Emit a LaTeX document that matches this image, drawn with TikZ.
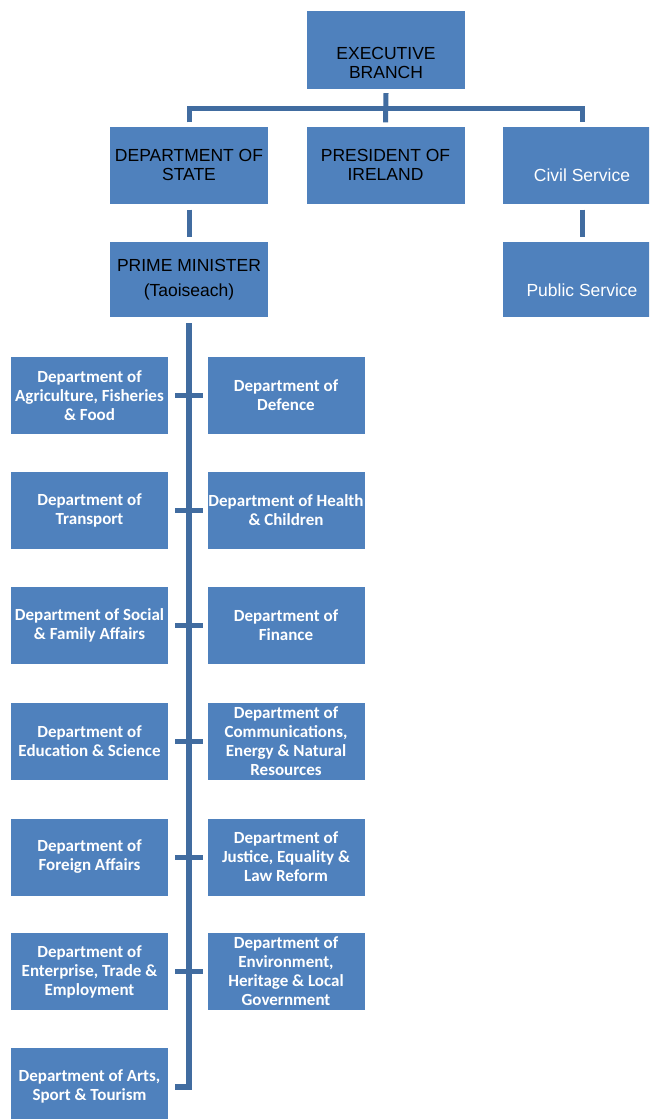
\documentclass[tikz,border=0pt]{standalone}
\usepackage{fontspec}
\setmainfont{Liberation Sans}
\newfontfamily\deptfont{Carlito}
\definecolor{boxblue}{HTML}{4F81BD}
\definecolor{connblue}{RGB}{65,108,160}
\begin{document}
\begin{tikzpicture}[x=1pt,y=-1pt,
  box/.style={rectangle, fill=boxblue, draw=none, inner sep=0pt, minimum width=158pt, minimum height=77pt, align=center},
  topfont/.style={font=\fontsize{17.5}{19}\selectfont},
  topbox/.style={box, topfont, text=black},
  dept/.style={box, minimum width=157pt, font=\deptfont\bfseries\fontsize{17}{19}\selectfont, text=white},
  lbl/.style={inner sep=0pt, align=center},
  conn/.style={draw=connblue, line width=5pt},
  trunk/.style={draw=connblue, line width=6pt}]
\useasboundingbox (0,0) rectangle (649,1119);
\fill[white] (0,0) rectangle (649,1119);
\begin{scope}
\clip (0,0) rectangle (649,1119);
% top level
\node[box, minimum height=78pt] (exec) at (386,50) {};
\node[lbl, topfont, text=black] (exectext) at (386,63) {EXECUTIVE\\BRANCH};
\node[topbox] (state) at (189,165) {DEPARTMENT OF\\STATE};
\node[topbox] (pres) at (385.5,165) {PRESIDENT OF\\IRELAND};
\node[box] (civil) at (582,165) {};
\node[lbl, topfont, text=white] (civiltext) at (582,175) {Civil Service};
\node[box, minimum height=75pt] (pm) at (189,279.5) {};
\node[lbl, topfont, text=black] (pmtext) at (189,280) {PRIME MINISTER\\[6pt](Taoiseach)};
\node[box, minimum height=75pt] (public) at (582,279.5) {};
\node[lbl, topfont, text=white] (publictext) at (582,290) {Public Service};
% departments
\node[dept] (l1) at (89.5,395.5) {Department of\\Agriculture, Fisheries\\\& Food};
\node[dept] (r1) at (286,395.5) {Department of\\Defence};
\node[dept] (l2) at (89.5,510.5) {Department of\\Transport};
\node[dept] (r2) at (286,510.5) {Department of Health\\\& Children};
\node[dept] (l3) at (89.5,625.5) {Department of Social\\\& Family Affairs};
\node[dept] (r3) at (286,625.5) {Department of\\Finance};
\node[dept] (l4) at (89.5,741.5) {Department of\\Education \& Science};
\node[dept] (r4) at (286,741.5) {Department of\\Communications,\\Energy \& Natural\\Resources};
\node[dept] (l5) at (89.5,857) {Department of\\Foreign Affairs};
\node[dept] (r5) at (286,857) {Department of\\Justice, Equality \&\\Law Reform};
\node[dept] (l6) at (89.5,971.5) {Department of\\Enterprise, Trade \&\\Employment};
\node[dept] (r6) at (286,971.5) {Department of\\Environment,\\Heritage \& Local\\Government};
\node[dept] (l7) at (89.5,1086.5) {Department of Arts,\\Sport \& Tourism};
% connectors
\coordinate (bar) at (386,108);
\draw[conn] ([yshift=-4pt]exec.south) -- ([yshift=4pt]pres.north);
\draw[conn] ([yshift=4pt]state.north) |- (bar) -| ([yshift=4pt]civil.north);
\draw[conn] ([yshift=-6pt]state.south) -- ([yshift=5pt]pm.north);
\draw[conn] ([yshift=-6pt]civil.south) -- ([yshift=5pt]public.north);
\draw[trunk] ([yshift=-6pt]pm.south) |- ([xshift=7pt]l7.east);
\foreach \i in {1,...,6}{
  \draw[conn] ([xshift=7pt]l\i.east) -- ([xshift=-4pt]r\i.west);
}
\end{scope}
\end{tikzpicture}
\end{document}
